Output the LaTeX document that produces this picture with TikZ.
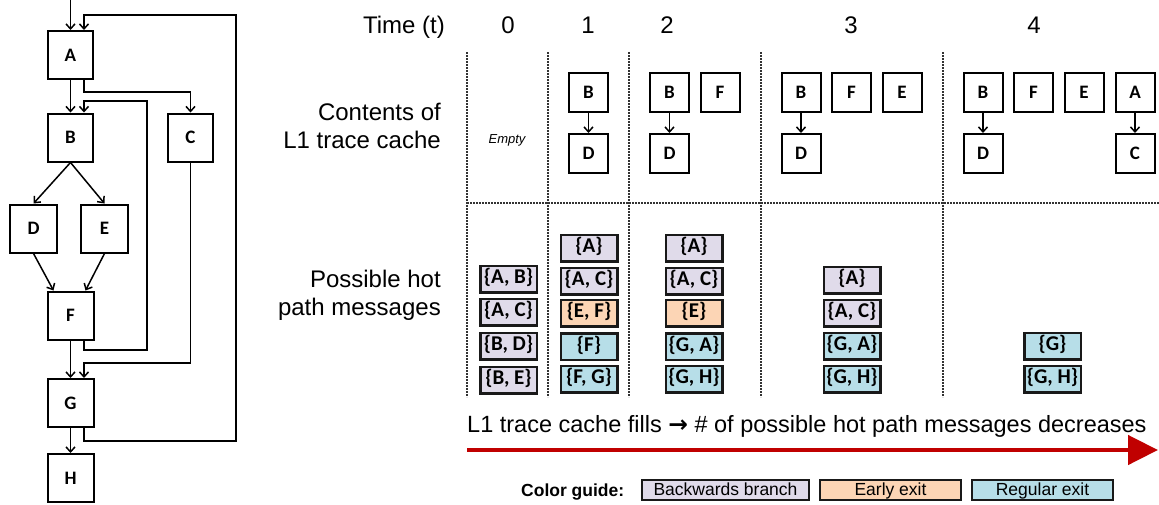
\documentclass[tikz,border=0pt]{standalone}
\usepackage{fontspec}
\setmainfont{Liberation Sans}
\newfontfamily\calfont{Carlito}
\newfontfamily\symfont{DejaVu Sans}
\usetikzlibrary{arrows.meta}
\definecolor{bbcol}{HTML}{E0DBEA}
\definecolor{eecol}{HTML}{FCD5B5}
\definecolor{recol}{HTML}{B7DEE8}
\definecolor{redarr}{HTML}{C00000}
\begin{document}
\begin{tikzpicture}[x=1pt,y=-1pt,
  cfgbox/.style={draw, line width=2pt, minimum width=45pt, minimum height=48pt, inner sep=0pt, font=\calfont\bfseries\fontsize{19}{19}\selectfont},
  cachebox/.style={draw, line width=2pt, minimum width=39pt, minimum height=39pt, inner sep=0pt, font=\calfont\bfseries\fontsize{19}{19}\selectfont},
  msg/.style={draw=black!90, line width=2.5pt, minimum width=56.5pt, minimum height=26.5pt, inner sep=0pt, text height=13.5pt, text depth=4.5pt, font=\calfont\bfseries\fontsize{21}{21}\selectfont},
  bb/.style={msg, fill=bbcol}, ee/.style={msg, fill=eecol}, rx/.style={msg, fill=recol},
  legbox/.style={draw=black!90, line width=2pt, minimum height=20pt, inner sep=0pt, text height=13.5pt, text depth=2.5pt, font=\fontsize{17.5}{17.5}\selectfont},
  edge/.style={line width=1.5pt, -{Straight Barb[length=5pt,width=9pt]}},
  dotline/.style={line width=1.6pt, black!80, dash pattern=on 1.6pt off 1.4pt},
  lbl/.style={inner sep=0pt, font=\fontsize{24}{28}\selectfont},
]
\useasboundingbox (0,0) rectangle (1159,504);
% ---------------- CFG ----------------
\node[cfgbox] (A) at (70.5,55) {A};
\node[cfgbox] (B) at (70.5,137.5) {B};
\node[cfgbox] (C) at (190.5,137.5) {C};
\node[cfgbox, minimum width=47pt] (D) at (33.5,228.5) {D};
\node[cfgbox, minimum width=47pt] (E) at (104.5,228.5) {E};
\node[cfgbox, minimum width=46pt] (F) at (70.5,315.5) {F};
\node[cfgbox, minimum width=46pt] (G) at (70.5,403) {G};
\node[cfgbox, minimum width=46pt] (H) at (70.5,478) {H};
\coordinate (in) at (70.5,0);
\coordinate (ac1) at (84,92);
\coordinate (fb1) at (147,350);
\coordinate (fb2) at (84,101);
\coordinate (cg1) at (84,363);
\coordinate (ga1) at (236,441);
\coordinate (ga2) at (84,15);
\draw[edge] (in) -- (A.north);
\draw[edge] (A.south) -- (B.north);
\draw[edge] ([xshift=13.5pt]A.south) -- (ac1) -| (C.north);
\draw[edge] (B.south) -- (D.north);
\draw[edge] (B.south) -- (E.north);
\draw[edge] (D.south) -- ([xshift=-17pt]F.north);
\draw[edge] (E.south) -- ([xshift=15pt]F.north);
\draw[edge] ([xshift=13.5pt]F.south) |- (fb1) |- (fb2) -- ([xshift=13.5pt]B.north);
\draw[edge] (F.south) -- (G.north);
\draw[edge] (C.south) |- (cg1) -- ([xshift=13.5pt]G.north);
\draw[edge] (G.south) -- (H.north);
\draw[edge] ([xshift=13.5pt]G.south) |- (ga1) |- (ga2) -- ([xshift=13.5pt]A.north);
% ---------------- headings ----------------
\node[lbl, anchor=base east] (time) at (445,33) {Time (t)};
\node[lbl, anchor=base] (t0) at (508,33) {0};
\node[lbl, anchor=base] (t1) at (588,33) {1};
\node[lbl, anchor=base] (t2) at (667,33) {2};
\node[lbl, anchor=base] (t3) at (851,33) {3};
\node[lbl, anchor=base] (t4) at (1034,33) {4};
\node[lbl, anchor=base east] (cont1) at (441,120) {Contents of};
\node[lbl, anchor=base east] (cont2) at (441,148) {L1 trace cache};
\node[lbl, anchor=base east] (poss1) at (441,287) {Possible hot};
\node[lbl, anchor=base east] (poss2) at (441,315) {path messages};
% ---------------- grid ----------------
\foreach \x in {467,548,629,761,943} \draw[dotline] (\x,52) -- (\x,397);
\draw[dotline] (467,203) -- (1159,203);
% ---------------- cache contents ----------------
\node[inner sep=0pt, font=\itshape\fontsize{13}{13}\selectfont] (empty) at (507,140) {Empty};
\node[cachebox] (B1) at (588.5,92.5) {B};
\node[cachebox] (D1) at (588.5,153.5) {D};
\node[cachebox] (B2) at (669.5,92.5) {B};
\node[cachebox] (F2) at (720,92.5) {F};
\node[cachebox] (D2) at (669.5,153.5) {D};
\node[cachebox] (B3) at (801,92.5) {B};
\node[cachebox] (F3) at (851.5,92.5) {F};
\node[cachebox] (E3) at (902,92.5) {E};
\node[cachebox] (D3) at (801,153.5) {D};
\node[cachebox] (B4) at (983,92.5) {B};
\node[cachebox] (F4) at (1033.5,92.5) {F};
\node[cachebox] (E4) at (1084,92.5) {E};
\node[cachebox] (A4) at (1135,92.5) {A};
\node[cachebox] (D4) at (983,153.5) {D};
\node[cachebox] (C4) at (1135,153.5) {C};
\foreach \a/\b in {B1/D1,B2/D2,B3/D3,B4/D4,A4/C4} \draw[edge] (\a.south) -- (\b.north);
% ---------------- hot path messages ----------------
\node[bb] (m01) at (508.5,279) {\{A, B\}};
\node[bb] (m02) at (508.5,312) {\{A, C\}};
\node[bb] (m03) at (508.5,346) {\{B, D\}};
\node[bb] (m04) at (508.5,380) {\{B, E\}};
\node[bb] (m10) at (589,248) {\{A\}};
\node[bb] (m11) at (589,281) {\{A, C\}};
\node[ee] (m12) at (589,313) {\{E, F\}};
\node[rx] (m13) at (589,346.5) {\{F\}};
\node[rx] (m14) at (589,379) {\{F, G\}};
\node[bb] (m20) at (694,248) {\{A\}};
\node[bb] (m21) at (694,281) {\{A, C\}};
\node[ee] (m22) at (694,313) {\{E\}};
\node[rx] (m23) at (694,346.5) {\{G, A\}};
\node[rx] (m24) at (694,379) {\{G, H\}};
\node[bb] (m31) at (852,280) {\{A\}};
\node[bb] (m32) at (852,313) {\{A, C\}};
\node[rx] (m33) at (852,346) {\{G, A\}};
\node[rx] (m34) at (852,379) {\{G, H\}};
\node[rx] (m43) at (1052.5,346) {\{G\}};
\node[rx] (m44) at (1052.5,379) {\{G, H\}};
% ---------------- trend arrow ----------------
\node[inner sep=0pt, anchor=base west, font=\fontsize{23.5}{28}\selectfont] (trend) at (467,432) {L1 trace cache fills {\symfont\bfseries →} \# of possible hot path messages decreases};
\coordinate (rs) at (467,450);
\coordinate (re) at (1158,450);
\draw[line width=4.6pt, redarr, -{Triangle[length=30pt,width=29pt]}] (rs) -- (re);
% ---------------- legend ----------------
\node[inner sep=0pt, anchor=base west, font=\bfseries\fontsize{17.5}{17.5}\selectfont] (cg) at (521,496) {Color guide:};
\node[legbox, fill=bbcol, minimum width=167pt] (lb) at (725.5,490) {Backwards branch};
\node[legbox, fill=eecol, minimum width=141pt] (le) at (890.5,490) {Early exit};
\node[legbox, fill=recol, minimum width=141pt] (lr) at (1042.5,490) {Regular exit};
\end{tikzpicture}
\end{document}
